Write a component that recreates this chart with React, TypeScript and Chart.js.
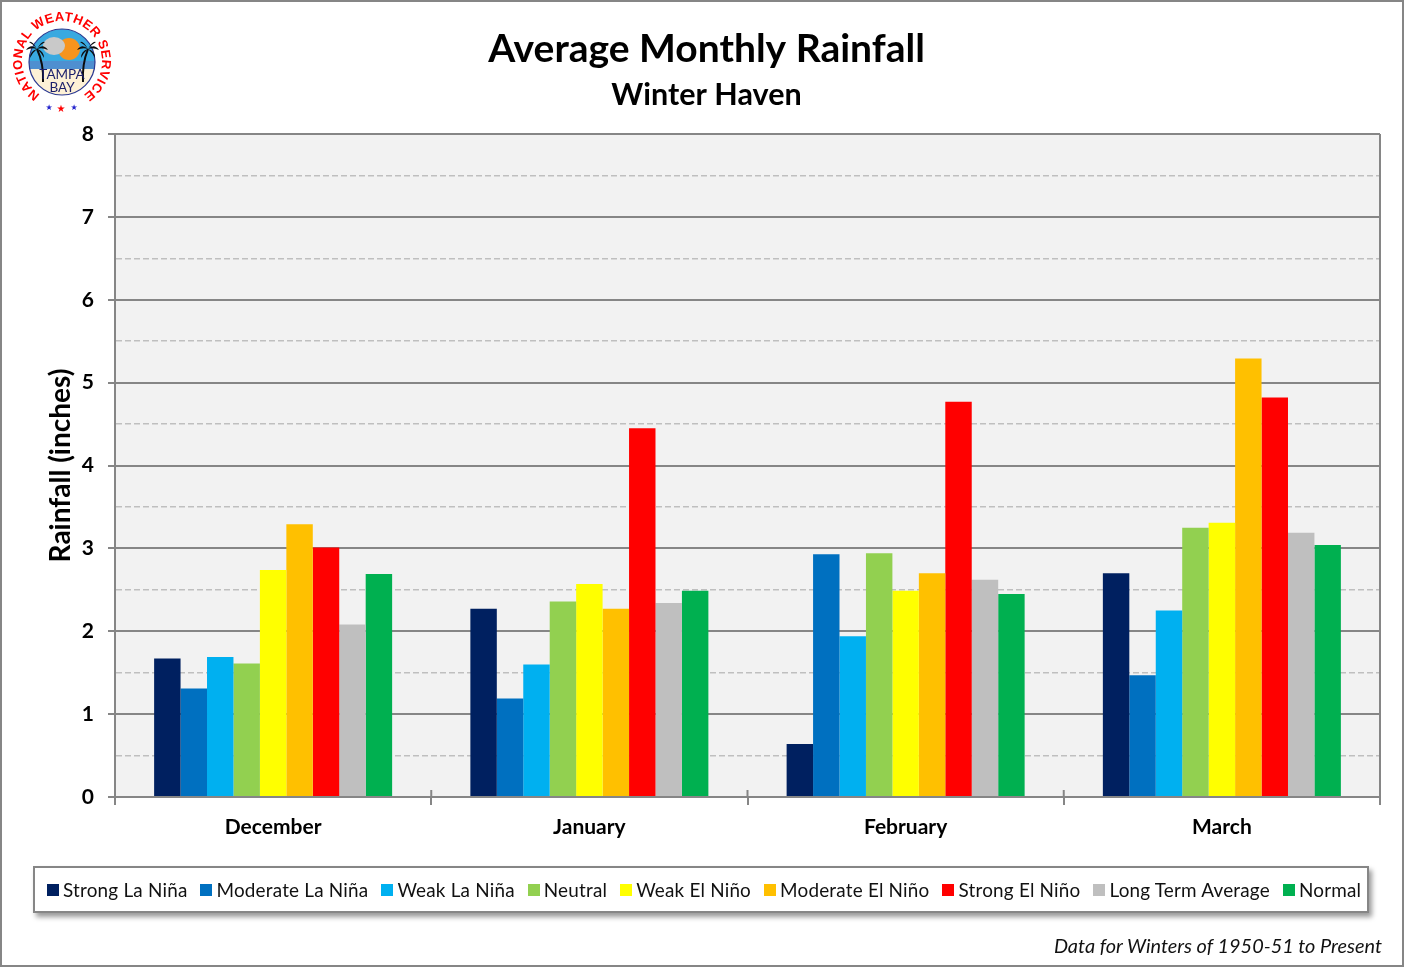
// App.tsx
import React, { useEffect, useRef } from "react";
import { Chart, registerables } from "chart.js";

Chart.register(...registerables);

const months = ["December", "January", "February", "March"];

const strongLaNina = [1.67, 2.27, 0.64, 2.7];
const moderateLaNina = [1.31, 1.19, 2.93, 1.47];
const weakLaNina = [1.69, 1.6, 1.94, 2.25];
const neutral = [1.61, 2.36, 2.94, 3.25];
const weakElNino = [2.74, 2.57, 2.49, 3.31];
const moderateElNino = [3.29, 2.27, 2.7, 5.29];
const strongElNino = [3.01, 4.45, 4.77, 4.82];
const longTermAverage = [2.08, 2.34, 2.62, 3.19];
const normal = [2.69, 2.49, 2.45, 3.04];

const seriesNames = [
  "Strong La Niña",
  "Moderate La Niña",
  "Weak La Niña",
  "Neutral",
  "Weak El Niño",
  "Moderate El Niño",
  "Strong El Niño",
  "Long Term Average",
  "Normal",
];
const seriesValues = [
  strongLaNina,
  moderateLaNina,
  weakLaNina,
  neutral,
  weakElNino,
  moderateElNino,
  strongElNino,
  longTermAverage,
  normal,
];
const seriesColors = [
  "#002060",
  "#0070c0",
  "#00b0f0",
  "#92d050",
  "#ffff00",
  "#ffc000",
  "#ff0000",
  "#bfbfbf",
  "#00b050",
];

const FONT = "Lato, Carlito, sans-serif";
const AXIS_GRAY = "#868686";

// plot background, right edge and the little x ticks that poke above the axis
const plotFrame = {
  id: "plotFrame",
  beforeDraw(chart: any) {
    const { ctx, chartArea: a } = chart;
    ctx.save();
    ctx.fillStyle = "#f2f2f2";
    ctx.fillRect(a.left, a.top, a.right - a.left, a.bottom - a.top);
    ctx.restore();
  },
  afterDraw(chart: any) {
    const { ctx, chartArea: a } = chart;
    ctx.save();
    ctx.strokeStyle = AXIS_GRAY;
    ctx.lineWidth = 2;
    ctx.beginPath();
    ctx.moveTo(a.right, a.top);
    ctx.lineTo(a.right, a.bottom);
    const step = (a.right - a.left) / months.length;
    for (let i = 1; i < months.length; i++) {
      const x = a.left + step * i;
      ctx.moveTo(x, a.bottom - 7);
      ctx.lineTo(x, a.bottom);
    }
    ctx.stroke();
    ctx.restore();
  },
};

function Logo() {
  const frond = (x: number, y: number) => (
    <g fill="#0c0c0c">
      <path d={`M ${x} ${y} Q ${x - 6} ${y - 6} ${x - 11} ${y + 1} Q ${x - 5} ${y - 2} ${x} ${y}`} />
      <path d={`M ${x} ${y} Q ${x + 6} ${y - 6} ${x + 11} ${y + 1} Q ${x + 5} ${y - 2} ${x} ${y}`} />
      <path d={`M ${x} ${y} Q ${x - 5} ${y - 9} ${x - 8} ${y - 7} Q ${x - 4} ${y - 5} ${x} ${y}`} />
      <path d={`M ${x} ${y} Q ${x + 5} ${y - 9} ${x + 8} ${y - 7} Q ${x + 4} ${y - 5} ${x} ${y}`} />
      <path d={`M ${x} ${y} Q ${x - 7} ${y + 2} ${x - 7} ${y + 9} Q ${x - 4} ${y + 3} ${x} ${y}`} />
      <path d={`M ${x} ${y} Q ${x + 7} ${y + 2} ${x + 7} ${y + 9} Q ${x + 4} ${y + 3} ${x} ${y}`} />
    </g>
  );
  return (
    <svg
      width={110}
      height={110}
      viewBox="0 0 110 110"
      style={{ position: "absolute", left: 7, top: 6 }}
    >
      <defs>
        <path id="ring" d="M 33.2 88.5 A 40 40 0 1 1 76.8 88.5" fill="none" />
        <clipPath id="disc">
          <circle cx="55" cy="56" r="33" />
        </clipPath>
      </defs>
      <g clipPath="url(#disc)">
        <rect x="20" y="20" width="70" height="36" fill="#39a9e0" />
        <rect x="20" y="55" width="70" height="8" fill="#4f8fd0" />
        <rect x="20" y="63" width="70" height="30" fill="#fdf1d6" />
        <circle cx="62" cy="43" r="11" fill="#f7941d" />
        <ellipse cx="47" cy="40" rx="11" ry="9" fill="#c9c9c9" />
      </g>
      <circle cx="55" cy="56" r="33" fill="none" stroke="#2b3990" strokeWidth="1.2" />
      <path d="M 36 76 Q 37 58 30 43 M 76 76 Q 75 58 81 43" stroke="#0c0c0c" strokeWidth="2" fill="none" />
      {frond(30, 43)}
      {frond(81, 43)}
      <text fontFamily="'Liberation Sans'" fontWeight="bold" fontSize="13" fill="#ff0000">
        <textPath href="#ring" textLength="205" lengthAdjust="spacing">
          NATIONAL WEATHER SERVICE
        </textPath>
      </text>
      <text x="55" y="73" textAnchor="middle" fontFamily={FONT} fontSize="13.5" fill="#1b1f6b">
        TAMPA
      </text>
      <text x="55" y="86" textAnchor="middle" fontFamily={FONT} fontSize="13.5" fill="#1b1f6b">
        BAY
      </text>
      <text x="42" y="104" textAnchor="middle" fontFamily="'DejaVu Sans'" fontSize="8" fill="#2222cc">★</text>
      <text x="54" y="106" textAnchor="middle" fontFamily="'DejaVu Sans'" fontSize="10" fill="#ff0000">★</text>
      <text x="67" y="104" textAnchor="middle" fontFamily="'DejaVu Sans'" fontSize="8" fill="#2222cc">★</text>
    </svg>
  );
}

export default function App() {
  const canvasRef = useRef<HTMLCanvasElement>(null);

  useEffect(() => {
    if (!canvasRef.current) return;
    const chart = new Chart(canvasRef.current, {
      type: "bar",
      data: {
        labels: months,
        datasets: seriesNames.map((name, i) => ({
          label: name,
          data: seriesValues[i],
          backgroundColor: seriesColors[i],
          borderWidth: 0,
          barPercentage: 1,
          categoryPercentage: 0.7526,
        })),
      },
      plugins: [plotFrame],
      options: {
        responsive: false,
        animation: false,
        layout: { padding: { left: 33, right: 24, top: 0, bottom: 120 } },
        plugins: {
          legend: { display: false },
          tooltip: { enabled: false },
          title: {
            display: true,
            text: "Average Monthly Rainfall",
            color: "#000",
            font: { family: FONT, size: 39, weight: "bold" },
            padding: { top: 26, bottom: 4 },
          },
          subtitle: {
            display: true,
            text: "Winter Haven",
            color: "#000",
            font: { family: FONT, size: 30.5, weight: "bold" },
            padding: { top: 0, bottom: 20.6 },
          },
        },
        scales: {
          x: {
            afterFit: (scale: any) => {
              scale.height = 50;
            },
            border: { color: AXIS_GRAY, width: 2 },
            grid: {
              offset: true,
              drawOnChartArea: false,
              color: AXIS_GRAY,
              lineWidth: 2,
              tickLength: 8,
            },
            ticks: {
              color: "#000",
              padding: 10,
              maxRotation: 0,
              font: { family: FONT, size: 21, weight: "bold" },
            },
          },
          y: {
            min: 0,
            max: 8,
            afterFit: (scale: any) => {
              scale.width = 82;
            },
            title: {
              display: true,
              text: "Rainfall (inches)",
              color: "#000",
              font: { family: FONT, size: 28, weight: "bold" },
              padding: { top: 11, bottom: 0 },
            },
            border: {
              color: AXIS_GRAY,
              width: 2,
              dash: (c: any) => (Number.isInteger(c.tick?.value) ? [] : [6, 3]),
            },
            grid: {
              color: (c: any) =>
                Number.isInteger(c.tick.value) ? AXIS_GRAY : "#bfbfbf",
              lineWidth: (c: any) => (Number.isInteger(c.tick.value) ? 2 : 1.5),
              tickColor: (c: any) =>
                Number.isInteger(c.tick.value) ? AXIS_GRAY : "transparent",
              tickLength: 7,
              tickWidth: 2,
            },
            ticks: {
              stepSize: 0.5,
              autoSkip: false,
              color: "#000",
              padding: 14,
              font: { family: FONT, size: 21, weight: "bold" },
              callback: (v: any) => (Number.isInteger(v) ? String(v) : ""),
            },
          },
        },
      },
    } as any);
    return () => chart.destroy();
  }, []);

  return (
    <div
      style={{
        position: "absolute",
        left: 0,
        top: 0,
        width: 1404,
        height: 967,
        background: "#fff",
        overflow: "hidden",
        fontFamily: FONT,
      }}
    >
      <canvas ref={canvasRef} width={1404} height={967} style={{ display: "block" }} />
      <Logo />
      <div
        style={{
          position: "absolute",
          left: 33,
          top: 866,
          width: 1336,
          height: 47,
          boxSizing: "border-box",
          border: `2px solid ${AXIS_GRAY}`,
          background: "#fff",
          boxShadow: "3px 4px 5px rgba(0,0,0,0.4)",
          display: "flex",
          alignItems: "center",
          paddingLeft: 12,
          gap: 13,
          whiteSpace: "nowrap",
          fontSize: 18.9,
          letterSpacing: 0.2,
          color: "#111",
        }}
      >
        {seriesNames.map((name, i) => (
          <span key={name} style={{ display: "flex", alignItems: "center", gap: 4 }}>
            <span style={{ width: 12, height: 12, background: seriesColors[i], display: "inline-block" }} />
            {name}
          </span>
        ))}
      </div>
      <div
        style={{
          position: "absolute",
          right: 22,
          top: 934,
          fontStyle: "italic",
          fontSize: 19.9,
          color: "#111",
          lineHeight: "23px",
        }}
      >
        Data for Winters of 1950-51 to Present
      </div>
      <div
        style={{
          position: "absolute",
          inset: 0,
          boxSizing: "border-box",
          border: `2px solid ${AXIS_GRAY}`,
          pointerEvents: "none",
        }}
      />
    </div>
  );
}
